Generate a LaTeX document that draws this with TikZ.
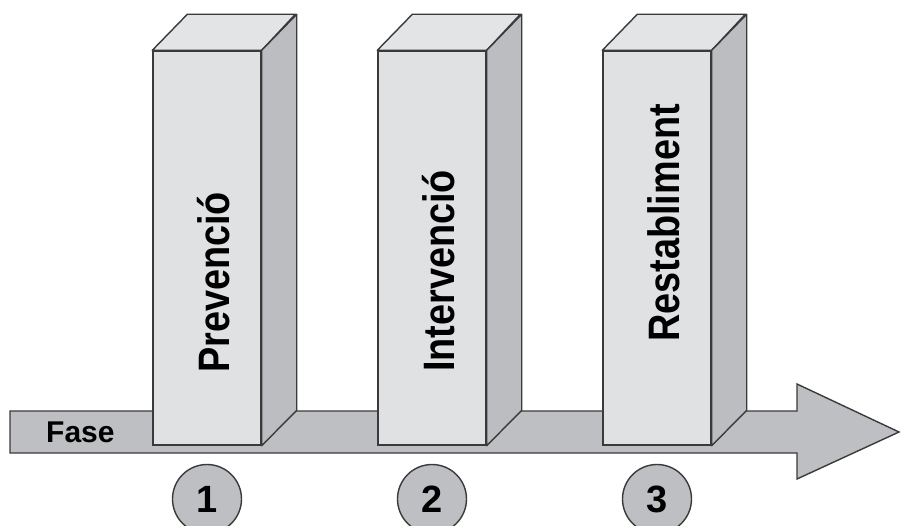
\documentclass[tikz,border=0pt]{standalone}
\usepackage{fontspec}
\usetikzlibrary{calc}
\setmainfont{Liberation Sans}
\newfontfamily\narrowfont[FakeStretch=0.86]{Liberation Sans}

\definecolor{linegray}{HTML}{3A3A3A}
\definecolor{frontgray}{HTML}{E0E1E3}
\definecolor{topgray}{HTML}{E3E4E6}
\definecolor{sidegray}{HTML}{BCBDC0}
\definecolor{arrowgray}{HTML}{BEBFC2}

\tikzstyle{front} = [draw=linegray, line width=1.4pt, fill=frontgray,
    minimum width=108pt, minimum height=394pt, inner sep=0pt]
\tikzstyle{topface} = [draw=linegray, line width=1.4pt, fill=topgray,
    line join=round]
\tikzstyle{sideface} = [draw=linegray, line width=1.4pt, fill=sidegray,
    line join=round]
\tikzstyle{phase} = [rotate=90, anchor=base west, inner sep=0pt,
    font=\narrowfont\bfseries\fontsize{44}{44}\selectfont]
\tikzstyle{stepnum} = [draw=linegray, line width=1.4pt, circle, fill=arrowgray,
    minimum size=69pt, inner sep=0pt, font=\bfseries\fontsize{38}{38}\selectfont]

\begin{document}
\begin{tikzpicture}[x=1pt, y=-1pt]
  \useasboundingbox (0,0) rectangle (901,526);

  % time axis
  \coordinate (tail) at (10,432);
  \coordinate (tip) at (899,432);
  \draw [draw=linegray, line width=1.4pt, fill=arrowgray, line join=miter]
    ($(tail)+(0,-21)$) -- (797,411) -- (797,384) -- (tip) -- (797,479)
    -- (797,453) -- ($(tail)+(0,21)$) -- cycle;
  \node (fase) [anchor=base west, inner sep=0pt,
    font=\bfseries\fontsize{30}{30}\selectfont] at (46,442) {Fase};

  % phase blocks
  \node (b1) [front] at (207,248) {};
  \node (b2) [front] at (432,248) {};
  \node (b3) [front] at (657,248) {};

  \draw [topface] (b1.north west) -- ++(35,-36) -- ++(108,0) -- (b1.north east) -- cycle;
  \draw [topface] (b2.north west) -- ++(35,-36) -- ++(108,0) -- (b2.north east) -- cycle;
  \draw [topface] (b3.north west) -- ++(35,-36) -- ++(108,0) -- (b3.north east) -- cycle;
  \draw [sideface] (b1.north east) -- ++(35,-36) -- ++(0,396) -- (b1.south east) -- cycle;
  \draw [sideface] (b2.north east) -- ++(35,-36) -- ++(0,396) -- (b2.south east) -- cycle;
  \draw [sideface] (b3.north east) -- ++(35,-36) -- ++(0,396) -- (b3.south east) -- cycle;

  \node (l1) [phase] at (229,373) {Prevenció};
  \node (l2) [phase] at (454,372) {Intervenció};
  \node (l3) [phase] at (679,342) {Restabliment};

  % step numbers
  \node (n1) [stepnum] at (207,499) {1};
  \node (n2) [stepnum] at (432,499) {2};
  \node (n3) [stepnum] at (657,499) {3};
\end{tikzpicture}
\end{document}
